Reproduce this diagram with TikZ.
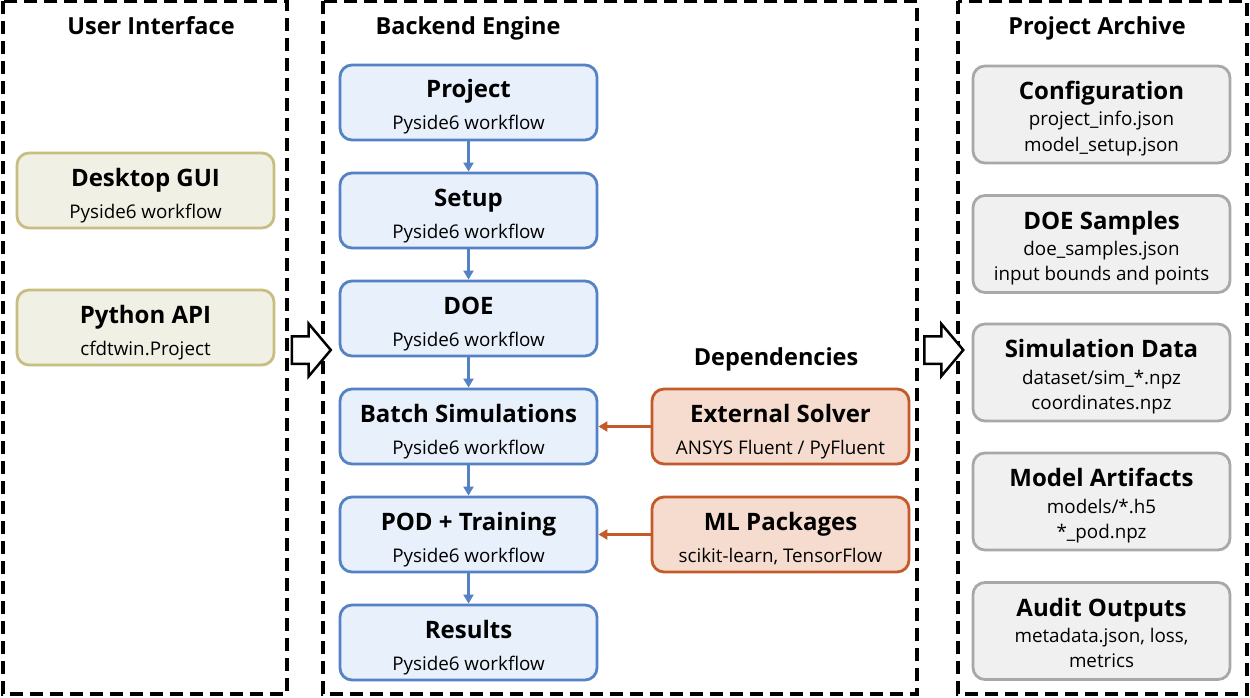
\documentclass[tikz,border=0pt]{standalone}
\usepackage{fontspec}
\setmainfont{Open Sans}
\usetikzlibrary{arrows.meta,shapes.arrows}
\definecolor{olb}{RGB}{200,190,130}
\definecolor{olf}{RGB}{241,240,228}
\definecolor{blb}{RGB}{84,130,196}
\definecolor{blf}{RGB}{232,240,252}
\definecolor{orb}{RGB}{196,90,42}
\definecolor{orf}{RGB}{246,220,206}
\definecolor{grb}{RGB}{168,168,168}
\definecolor{grf}{RGB}{240,240,240}
\tikzset{
  panel/.style={draw=black,line width=3.5pt,dash pattern=on 13pt off 7pt},
  ptitle/.style={font=\fontsize{23.5}{26}\selectfont\bfseries,anchor=base,inner sep=0pt},
  ttl/.style={font=\fontsize{24}{26}\selectfont\bfseries,anchor=base,inner sep=0pt},
  sub/.style={font=\fontsize{18.8}{25}\selectfont,anchor=base,inner sep=0pt,align=center},
  box/.style={rounded corners=12pt,line width=2.8pt,minimum width=257pt,minimum height=75pt,inner sep=0pt},
  uibox/.style={box,draw=olb,fill=olf},
  bebox/.style={box,draw=blb,fill=blf},
  depbox/.style={box,draw=orb,fill=orf},
  arbox/.style={box,draw=grb,fill=grf,minimum height=97pt},
  flow/.style={draw=blb,line width=2.2pt,-{Triangle[length=9pt,width=10pt]}},
  dep/.style={draw=orb,line width=2.2pt,-{Triangle[length=9pt,width=10pt]}},
  hollow/.style={single arrow,draw=black,fill=white,line width=2.5pt,minimum width=0pt,minimum height=39pt,inner xsep=0pt,inner ysep=12.5pt,single arrow head extend=12.5pt,single arrow tip angle=100,single arrow head indent=0pt}
}
\newcommand{\twoline}[3]{%
  \node[ttl] (#1t) at ([yshift=4.5pt]#1.center) {#2};
  \node[sub] (#1s) at ([yshift=-27.5pt]#1.center) {#3};}
\newcommand{\threeline}[4]{%
  \node[ttl] (#1t) at ([yshift=15pt]#1.center) {#2};
  \node[sub] (#1a) at ([yshift=-11.5pt]#1.center) {#3};
  \node[sub] (#1b) at ([yshift=-36.5pt]#1.center) {#4};}
\begin{document}
\begin{tikzpicture}[x=1pt,y=-1pt]
\useasboundingbox (0,0) rectangle (1250,698);
\fill[white] (0,0) rectangle (1250,698);
% panels
\draw[panel] (3,1) rectangle (287,694);
\draw[panel] (323,1) rectangle (917,694);
\draw[panel] (958,1) rectangle (1247,694);
\node[ptitle] (tui) at (151,35) {User Interface};
\node[ptitle] (tbe) at (468,35) {Backend Engine};
\node[ptitle] (tpa) at (1097,35) {Project Archive};
\node[ptitle] (tdep) at (776,365) {Dependencies};
% UI
\node[uibox] (gui) at (145.5,190.5) {};
\node[uibox] (api) at (145.5,327.5) {};
\twoline{gui}{Desktop GUI}{Pyside6 workflow}
\twoline{api}{Python API}{cfdtwin.Project}
% Backend
\node[bebox] (proj) at (468.5,102.5) {};
\node[bebox] (setup) at (468.5,210.5) {};
\node[bebox] (doe) at (468.5,318.5) {};
\node[bebox] (batch) at (468.5,426.5) {};
\node[bebox] (pod) at (468.5,534.5) {};
\node[bebox] (res) at (468.5,642.5) {};
\twoline{proj}{Project}{Pyside6 workflow}
\twoline{setup}{Setup}{Pyside6 workflow}
\twoline{doe}{DOE}{Pyside6 workflow}
\twoline{batch}{Batch Simulations}{Pyside6 workflow}
\twoline{pod}{POD + Training}{Pyside6 workflow}
\twoline{res}{Results}{Pyside6 workflow}
\draw[flow] (proj) -- (setup);
\draw[flow] (setup) -- (doe);
\draw[flow] (doe) -- (batch);
\draw[flow] (batch) -- (pod);
\draw[flow] (pod) -- (res);
% deps
\node[depbox] (ext) at (780.5,426.5) {};
\node[depbox] (ml) at (780.5,534.5) {};
\twoline{ext}{External Solver}{ANSYS Fluent / PyFluent}
\twoline{ml}{ML Packages}{scikit-learn, TensorFlow}
\draw[dep] (ext) -- (batch);
\draw[dep] (ml) -- (pod);
% archive
\node[arbox] (cfg) at (1101.5,114.5) {};
\node[arbox] (does) at (1101.5,244) {};
\node[arbox] (sim) at (1101.5,372.5) {};
\node[arbox] (mod) at (1101.5,501.5) {};
\node[arbox] (aud) at (1101.5,631) {};
\threeline{cfg}{Configuration}{project\_info.json}{model\_setup.json}
\threeline{does}{DOE Samples}{doe\_samples.json}{input bounds and points}
\threeline{sim}{Simulation Data}{dataset/sim\_*.npz}{coordinates.npz}
\threeline{mod}{Model Artifacts}{models/*.h5}{*\_pod.npz}
\threeline{aud}{Audit Outputs}{metadata.json, loss,}{metrics}
% hollow arrows
\node[hollow] (h1) at (305.5,350) {};
\node[hollow] (h2) at (938,350) {};
\end{tikzpicture}
\end{document}
